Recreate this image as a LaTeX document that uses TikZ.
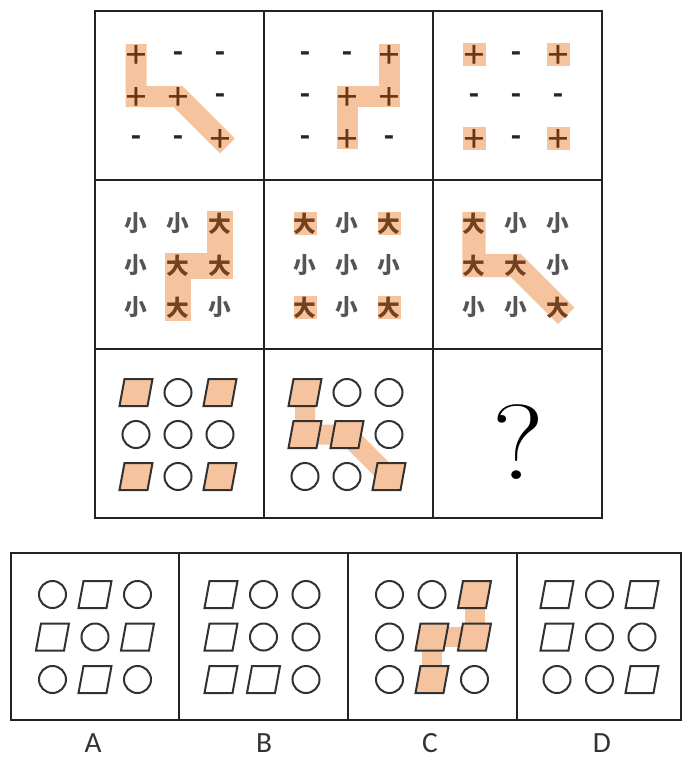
\documentclass[tikz,border=0pt]{standalone}
\usepackage{fontspec}
\newfontfamily\cjk{Noto Sans CJK SC}
\newfontfamily\lab{Carlito}
\definecolor{hlc}{RGB}{245,196,158}
\definecolor{plusc}{RGB}{105,52,18}
\definecolor{bigc}{RGB}{115,65,30}
\definecolor{smallc}{RGB}{85,85,85}
\definecolor{shpc}{RGB}{50,50,50}
\definecolor{framec}{RGB}{35,35,35}
\newcommand\mygrid[2]{%
  \foreach \t [count=\k from 0] in {#2}{%
    \pgfmathtruncatemacro\ii{mod(\k,3)}%
    \pgfmathtruncatemacro\jj{div(\k,3)}%
    \pic (s#1-\ii\jj) at (#1-\ii\jj) {\t};
  }}
\begin{document}
\begin{tikzpicture}[x=0.75pt,y=-0.75pt,
  frame/.style={draw=framec, line width=2.2pt},
  hl/.style={draw=hlc, line width=15.75pt, line cap=rect, line join=miter},
  hlsq/.style={fill=hlc, minimum size=17.25pt, inner sep=0pt, draw=none},
  shp/.style={draw=shpc, line width=1.5pt},
  plussym/.style={text=plusc, font=\lab\fontsize{30}{30}\selectfont, inner sep=0pt,
                  text height=19pt, text depth=0pt},
  minussym/.style={text=black!85, font=\lab\bfseries\fontsize{24}{24}\selectfont, inner sep=0pt,
                  text height=12.5pt, text depth=0pt},
  smallsym/.style={text=smallc, font=\cjk\bfseries\fontsize{17}{17}\selectfont, inner sep=0pt},
  bigsym/.style={text=bigc, font=\cjk\bfseries\fontsize{17}{17}\selectfont, inner sep=0pt},
  optlabel/.style={text=black!80, font=\lab\fontsize{22}{22}\selectfont, inner sep=0pt},
  pl/.pic={\node[plussym] (-s) {+};},
  mi/.pic={\node[minussym] (-s) {-};},
  sm/.pic={\node[smallsym] (-s) {小};},
  bg/.pic={\node[bigsym] (-s) {大};},
  ci/.pic={\draw[shp] (0,0) circle[radius=13.5];},
  pa/.pic={\draw[shp] (-16.5,13.5) -- (11.5,13.5) -- (16.5,-13.5) -- (-11.5,-13.5) -- cycle;},
  pf/.pic={\draw[shp, fill=hlc] (-16.5,13.5) -- (11.5,13.5) -- (16.5,-13.5) -- (-11.5,-13.5) -- cycle;}
]
\useasboundingbox (0,0) rectangle (683,758);
\fill[white] (0,0) rectangle (683,758);

% item coordinates of the 3x3 matrix
\foreach \R/\cy in {1/95.5,2/264.5,3/433.5}{
  \foreach \C/\cx in {1/179.5,2/348.5,3/517.5}{
    \foreach \i in {0,1,2}{
      \foreach \j in {0,1,2}{
        \coordinate (g\R\C-\i\j) at ({\cx-1.5+42*(\i-1)},{\cy+1+42*(\j-1)});
      }}}}
% item coordinates of the options
\foreach \K/\cx in {1/95,2/263.5,3/432,4/599.5}{
  \foreach \i in {0,1,2}{
    \foreach \j in {0,1,2}{
      \coordinate (o\K-\i\j) at ({\cx+42.5*(\i-1)},{637+42.5*(\j-1)});
    }}}

% highlights
\draw[hl] (g11-00) -- (g11-01) -- (g11-11) -- (g11-22);
\draw[hl] (g12-20) -- (g12-21) -- (g12-11) -- (g12-12);
\foreach \p in {00,20,02,22}{\node[hlsq] (h13-\p) at (g13-\p) {};}
\draw[hl, line width=19.5pt] (g21-20) -- (g21-21) -- (g21-11) -- (g21-12);
\foreach \p in {00,20,02,22}{\node[hlsq] (h22-\p) at (g22-\p) {};}
\draw[hl, line width=17.5pt] (g23-00) -- (g23-01) -- (g23-11) -- (g23-22);
\draw[hl, line width=15pt] (g32-00) -- (g32-01) -- (g32-11) -- (g32-22);
\draw[hl, line width=15pt] (o3-20) -- (o3-21) -- (o3-11) -- (o3-12);

% symbols
\mygrid{g11}{pl,mi,mi,pl,pl,mi,mi,mi,pl}
\mygrid{g12}{mi,mi,pl,mi,pl,pl,mi,pl,mi}
\mygrid{g13}{pl,mi,pl,mi,mi,mi,pl,mi,pl}
\mygrid{g21}{sm,sm,bg,sm,bg,bg,sm,bg,sm}
\mygrid{g22}{bg,sm,bg,sm,sm,sm,bg,sm,bg}
\mygrid{g23}{bg,sm,sm,bg,bg,sm,sm,sm,bg}
\mygrid{g31}{pf,ci,pf,ci,ci,ci,pf,ci,pf}
\mygrid{g32}{pf,ci,ci,pf,pf,ci,ci,ci,pf}
\mygrid{o1}{ci,pa,ci,pa,ci,pa,ci,pa,ci}
\mygrid{o2}{pa,ci,ci,pa,ci,ci,pa,pa,ci}
\mygrid{o3}{ci,ci,pf,ci,pf,pf,ci,pf,ci}
\mygrid{o4}{pa,ci,pa,pa,ci,ci,ci,ci,pa}

\node[font=\fontsize{80}{80}\selectfont, inner sep=0pt, xscale=1.12] (q) at (518,442) {?};

% frames
\draw[frame] (95,11) rectangle (602,518);
\draw[frame] (264,11) -- (264,518) (433,11) -- (433,518)
             (95,180) -- (602,180) (95,349) -- (602,349);
\draw[frame] (11,553) rectangle (681,720);
\draw[frame] (179,553) -- (179,720) (348,553) -- (348,720) (517,553) -- (517,720);

% option labels
\node[optlabel] (la) at (93,743) {A};
\node[optlabel] (lb) at (264,743) {B};
\node[optlabel] (lc) at (430,743) {C};
\node[optlabel] (ld) at (602,743) {D};
\end{tikzpicture}
\end{document}
